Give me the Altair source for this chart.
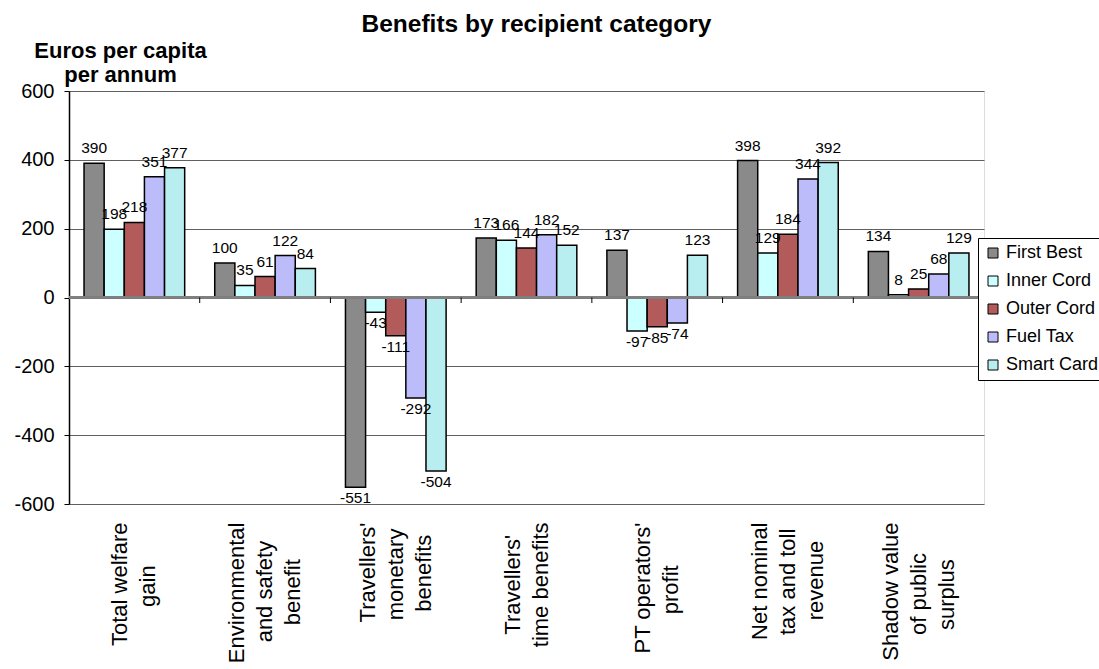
import altair as alt
import pandas as pd

# Recipient categories, one list of label lines per category
category_lines = [
    ["Total welfare", "gain"],
    ["Environmental", "and safety", "benefit"],
    ["Travellers'", "monetary", "benefits"],
    ["Travellers'", "time benefits"],
    ["PT operators'", "profit"],
    ["Net nominal", "tax and toll", "revenue"],
    ["Shadow value", "of public", "surplus"],
]

schemes = ["First Best", "Inner Cord", "Outer Cord", "Fuel Tax", "Smart Card"]
colors = ["#8a8a8a", "#ccffff", "#b35a5a", "#bcbcfa", "#b8eef0"]

# Euros per capita per annum, one list per scheme (same order as categories)
first_best = [390, 100, -551, 173, 137, 398, 134]
inner_cord = [198, 35, -43, 166, -97, 129, 8]
outer_cord = [218, 61, -111, 144, -85, 184, 25]
fuel_tax = [351, 122, -292, 182, -74, 344, 68]
smart_card = [377, 84, -504, 152, 123, 392, 129]

series = [first_best, inner_cord, outer_cord, fuel_tax, smart_card]

# Approximate advance widths (1/1000 em) of the sans-serif label font, used to
# centre the shorter lines of each rotated, top-aligned category label.
ADV = {
    " ": 278, "'": 191, "a": 556, "b": 556, "c": 500, "d": 556, "e": 556,
    "f": 278, "g": 556, "h": 556, "i": 222, "l": 222, "m": 833, "n": 556,
    "o": 556, "p": 556, "r": 333, "s": 500, "t": 278, "u": 556, "v": 500,
    "w": 722, "x": 500, "y": 500, "E": 667, "N": 722, "P": 667, "S": 667,
    "T": 611,
}
NBSP = "\u00a0"
# zero-width end marker so the padding survives whitespace trimming
ZWSP = "\u200b"


def text_width(s):
    return sum(ADV.get(ch, 556) for ch in s)


def centred_label(lines):
    widest = max(text_width(s) for s in lines)
    padded = []
    for s in lines:
        n = int(round((widest - text_width(s)) / 2 / 278))
        padded.append(s + NBSP * n + ZWSP if n > 0 else s)
    return "\n".join(padded)


categories = [centred_label(lines) for lines in category_lines]

rows = []
for name, vals in zip(schemes, series):
    for cat, v in zip(categories, vals):
        rows.append({"category": cat, "scheme": name, "value": v, "label": str(v)})
df = pd.DataFrame(rows)

# category boundaries for the small tick marks on the zero line
boundaries = pd.DataFrame({"b": list(range(1, len(categories) + 1))})

FONT = "Liberation Sans"
LINE_H = 28

x_enc = alt.X(
    "category:N",
    sort=categories,
    scale=alt.Scale(paddingInner=0.23, paddingOuter=0.115),
    axis=alt.Axis(
        title=None,
        labelAngle=-90,
        labelAlign="right",
        labelBaseline="middle",
        labelFontSize=22,
        labelLineHeight=LINE_H,
        labelPadding=18,
        labelLimit=400,
        labelColor="black",
        labelFont=FONT,
        labelExpr="split(datum.label, '\\n')",
        labelOffset=alt.condition(
            "length(split(datum.label, '\\n')) == 3",
            alt.value(-LINE_H),
            alt.value(-LINE_H / 2),
        ),
        ticks=False,
        domain=False,
        grid=False,
    ),
)

y_scale = alt.Scale(domain=[-600, 600], nice=False)

bars = (
    alt.Chart(df)
    .mark_bar(stroke="black", strokeWidth=1.5)
    .encode(
        x=x_enc,
        xOffset=alt.XOffset("scheme:N", sort=schemes, scale=alt.Scale(paddingInner=0, paddingOuter=0)),
        y=alt.Y(
            "value:Q",
            scale=y_scale,
            axis=alt.Axis(
                values=[-600, -400, -200, 0, 200, 400, 600],
                labelExpr="toString(datum.value)",
                title=["Euros per capita", "per annum"],
                titleAngle=0,
                titleAlign="center",
                titleBaseline="alphabetic",
                titleX=51,
                titleY=-34,
                titleFontSize=22,
                titleFont=FONT,
                titleFontWeight="bold",
                titleLineHeight=24,
                titleColor="black",
                labelFontSize=20,
                labelFont=FONT,
                labelColor="black",
                labelPadding=10,
                tickColor="black",
                tickSize=5,
                domainColor="black",
                domainWidth=1.5,
                gridColor="#606060",
                gridWidth=1,
            ),
        ),
        fill=alt.Fill(
            "scheme:N",
            sort=schemes,
            scale=alt.Scale(domain=schemes, range=colors),
            legend=alt.Legend(
                title=None,
                orient="none",
                legendX=909,
                legendY=147,
                symbolType="square",
                symbolSize=100,
                symbolStrokeColor="black",
                symbolStrokeWidth=1,
                labelFontSize=18,
                labelFont=FONT,
                labelColor="black",
                rowPadding=10,
                labelOffset=4,
                strokeColor="black",
                fillColor="white",
                padding=6,
                cornerRadius=0,
            ),
        ),
    )
)

pos_labels = (
    alt.Chart(df)
    .transform_filter("datum.value >= 0")
    .mark_text(baseline="bottom", dy=-7, fontSize=15.5, font=FONT, color="black")
    .encode(
        x=alt.X("category:N", sort=categories),
        xOffset=alt.XOffset("scheme:N", sort=schemes),
        y=alt.Y("value:Q", scale=y_scale),
        text="label:N",
    )
)

neg_labels = (
    alt.Chart(df)
    .transform_filter("datum.value < 0")
    .mark_text(baseline="top", dy=4, fontSize=15.5, font=FONT, color="black")
    .encode(
        x=alt.X("category:N", sort=categories),
        xOffset=alt.XOffset("scheme:N", sort=schemes),
        y=alt.Y("value:Q", scale=y_scale),
        text="label:N",
    )
)

zero_line = (
    alt.Chart(df)
    .mark_rule(color="#808080", strokeWidth=1.5)
    .encode(y=alt.datum(0, scale=y_scale))
)

ticks = (
    alt.Chart(boundaries)
    .mark_rule(color="black", strokeWidth=1)
    .encode(
        x=alt.X("b:Q", scale=alt.Scale(domain=[0, len(categories)], nice=False, zero=True), axis=None),
        y=alt.datum(0),
        y2=alt.datum(-16),
    )
)

main = alt.layer(bars, zero_line, pos_labels, neg_labels)

chart = (
    alt.layer(main, ticks)
    .resolve_scale(x="independent")
    .properties(
        width=915,
        height=413,
        autosize=alt.AutoSizeParams(type="none"),
        padding={"left": 69, "top": 91, "right": 115, "bottom": 165},
        title=alt.TitleParams(
            "Benefits by recipient category",
            fontSize=24.5,
            font=FONT,
            fontWeight="bold",
            color="black",
            anchor="middle",
            offset=2,
            dx=10,
        ),
    )
    .configure_view(stroke="#808080", strokeWidth=1.5)
    .configure(background="white")
)

chart.save("out.html", embed_options={"renderer": "svg", "actions": False})
